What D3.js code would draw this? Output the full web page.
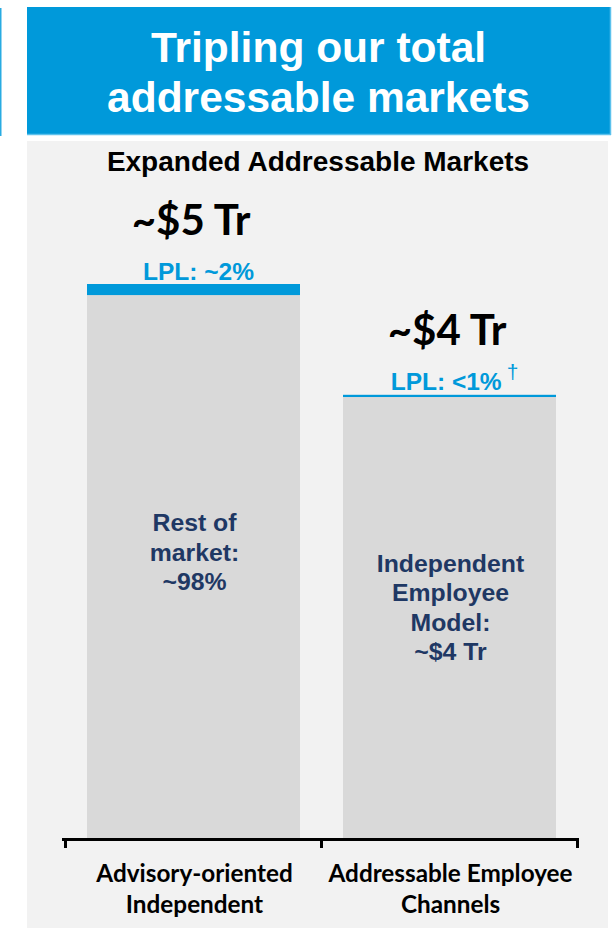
<!DOCTYPE html>
<html>
<head>
<meta charset="utf-8">
<title>Tripling our total addressable markets</title>
<script src="https://d3js.org/d3.v7.min.js"></script>
<style>
  body { margin: 0; background: #ffffff; }
  svg { display: block; }
</style>
</head>
<body>
<div id="chart"></div>
<script>
/////////////////////Datos///////////////////////////////////////////////////////
var categories = ["Advisory-oriented Independent", "Addressable Employee Channels"];
var categoryLines = [["Advisory-oriented", "Independent"], ["Addressable Employee", "Channels"]];
var totals = [5, 4];            // $ Tr
var lplShare = [0.02, 0.005];   // ~2%, <1%
var totalLabels = ["~$5 Tr", "~$4 Tr"];
var lplLabels = ["LPL: ~2%", "LPL: <1%"];
var lplNotes = ["", "\u2020"];
var innerLabels = [["Rest of", "market:", "~98%"], ["Independent", "Employee", "Model:", "~$4 Tr"]];
var titleLines = ["Tripling our total", "addressable markets"];
var subtitle = "Expanded Addressable Markets";

var rows = categories.map(function(c, i) {
  return {
    name: c,
    total: totals[i],
    lpl: totals[i] * lplShare[i],
    totalLabel: totalLabels[i],
    lplLabel: lplLabels[i],
    note: lplNotes[i],
    inner: innerLabels[i],
    lines: categoryLines[i]
  };
});

/////////////////////Tamaño//////////////////////////////////////////////////////
var width = 613,
    height = 928;
var blue = "#0099da",
    navy = "#1f3864",
    barGray = "#d9d9d9",
    panelGray = "#f2f2f2";
var arial = "'Liberation Sans', Arial, sans-serif",
    calibri = "Lato, 'Open Sans', sans-serif";

var svg = d3.select("#chart")
  .append("svg")
    .attr("width", width)
    .attr("height", height);

/////////////////////Cabecera////////////////////////////////////////////////////
svg.append("rect")
  .attr("x", 0).attr("y", 8)
  .attr("width", 1.5).attr("height", 128)
  .attr("fill", "#29abe2");

svg.append("rect")
  .attr("x", 27).attr("y", 7)
  .attr("width", 583).attr("height", 128)
  .attr("fill", blue);
svg.append("line")
  .attr("x1", 27).attr("x2", 611).attr("y1", 134.5).attr("y2", 134.5)
  .attr("stroke", "#5cc1ec").attr("stroke-width", 1.5);
svg.append("line")
  .attr("x1", 610.5).attr("x2", 610.5).attr("y1", 7).attr("y2", 135)
  .attr("stroke", "#5cc1ec").attr("stroke-width", 1.5);

svg.selectAll(".title")
  .data(titleLines)
  .enter()
  .append("text")
    .attr("class", "title")
    .attr("x", 318.5)
    .attr("y", function(d, i) { return 62 + i * 50; })
    .attr("text-anchor", "middle")
    .attr("fill", "#ffffff")
    .style("font-family", arial)
    .style("font-weight", "bold")
    .style("font-size", "42.5px")
    .text(function(d) { return d; });

/////////////////////Panel///////////////////////////////////////////////////////
svg.append("rect")
  .attr("x", 27).attr("y", 141)
  .attr("width", 581).attr("height", height - 141)
  .attr("fill", panelGray);

svg.append("text")
  .attr("x", 318)
  .attr("y", 171)
  .attr("text-anchor", "middle")
  .attr("fill", "#000000")
  .style("font-family", arial)
  .style("font-weight", "bold")
  .style("font-size", "28px")
  .text(subtitle);

/////////////////////Escalas/////////////////////////////////////////////////////
var x = d3.scaleBand()
  .domain(categories)
  .range([65.5, 577.5])
  .paddingInner(0.168)
  .paddingOuter(0.084);

var y = d3.scaleLinear()
  .domain([0, 5])
  .range([838, 284]);

/////////////////////Barras//////////////////////////////////////////////////////
var bars = svg.selectAll(".bar")
  .data(rows)
  .enter()
  .append("g")
    .attr("class", "bar");

bars.append("rect")
  .attr("x", function(d) { return x(d.name); })
  .attr("y", function(d) { return y(d.total - d.lpl); })
  .attr("width", x.bandwidth())
  .attr("height", function(d) { return y(0) - y(d.total - d.lpl); })
  .attr("fill", barGray);

bars.append("rect")
  .attr("x", function(d) { return x(d.name); })
  .attr("y", function(d) { return y(d.total); })
  .attr("width", x.bandwidth())
  .attr("height", function(d) { return y(d.total - d.lpl) - y(d.total); })
  .attr("fill", blue);

// total encima
bars.append("text")
  .attr("x", function(d) { return x(d.name) + x.bandwidth() / 2 - 2.5; })
  .attr("y", function(d) { return y(d.total) - 49.5; })
  .attr("text-anchor", "middle")
  .attr("fill", "#000000")
  .style("font-family", calibri)
  .style("font-weight", "bold")
  .style("font-size", "42px")
  .text(function(d) { return d.totalLabel; });

// LPL
var lpl = bars.append("text")
  .attr("x", function(d) { return x(d.name) + x.bandwidth() / 2 + 5; })
  .attr("y", function(d) { return y(d.total) - 4.5; })
  .attr("text-anchor", "middle")
  .attr("fill", blue)
  .style("font-family", arial)
  .style("font-weight", "bold")
  .style("font-size", "24.5px");
lpl.append("tspan")
  .text(function(d) { return d.lplLabel; });
lpl.append("tspan")
  .attr("dx", 5)
  .attr("dy", -11)
  .style("font-size", "21px")
  .style("font-weight", "normal")
  .text(function(d) { return d.note; });

// texto interior
bars.each(function(d) {
  var g = d3.select(this);
  var mid = (y(d.total) + y(0)) / 2 - 9;
  var lineH = 29.5;
  var first = mid - ((d.inner.length - 1) * lineH + 17) / 2 + 17;
  g.selectAll(".inner")
    .data(d.inner)
    .enter()
    .append("text")
      .attr("class", "inner")
      .attr("x", x(d.name) + x.bandwidth() / 2 + 1)
      .attr("y", function(t, i) { return first + i * lineH; })
      .attr("text-anchor", "middle")
      .attr("fill", navy)
      .style("font-family", arial)
      .style("font-weight", "bold")
      .style("font-size", "24.8px")
      .text(function(t) { return t; });
});

/////////////////////Eje/////////////////////////////////////////////////////////
var axis = svg.append("g").attr("class", "x-axis");
var bounds = categories.map(function(c) { return x(c) - (x.step() - x.bandwidth()) / 2; });
bounds.push(x.range()[1]);

axis.append("line")
  .attr("x1", x.range()[0] - 3.5)
  .attr("x2", x.range()[1] + 1.5)
  .attr("y1", y(0) + 1.5)
  .attr("y2", y(0) + 1.5)
  .attr("stroke", "#000000")
  .attr("stroke-width", 3);

axis.selectAll(".tick")
  .data(bounds)
  .enter()
  .append("line")
    .attr("class", "tick")
    .attr("x1", function(d) { return d; })
    .attr("x2", function(d) { return d; })
    .attr("y1", y(0))
    .attr("y2", y(0) + 10)
    .attr("stroke", "#000000")
    .attr("stroke-width", 3);

rows.forEach(function(d) {
  axis.selectAll(null)
    .data(d.lines)
    .enter()
    .append("text")
      .attr("x", x(d.name) + x.bandwidth() / 2 + 1)
      .attr("y", function(t, i) { return y(0) + 44 + i * 31; })
      .attr("text-anchor", "middle")
      .attr("fill", "#000000")
      .style("font-family", calibri)
      .style("font-weight", "bold")
      .style("font-size", "24.3px")
      .text(function(t) { return t; });
});
</script>
</body>
</html>
